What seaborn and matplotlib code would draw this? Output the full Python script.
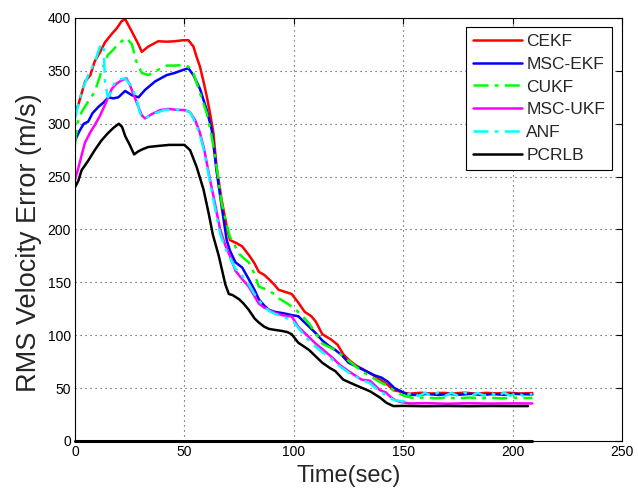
import numpy as np
import pandas as pd
import matplotlib
matplotlib.use("Agg")
import matplotlib.pyplot as plt
import seaborn as sns

OUT_PATH = "out.png"

# values (time in sec, RMS velocity error in m/s)
cekf_t = [0, 1.5, 4.6, 7, 9, 11.5, 13.7, 16.8, 19, 21.3, 22.9, 26, 29, 30.5, 33.5, 38,
          41.9, 45.5, 49.5, 51.8, 54.1, 55.6, 57.1, 58.6, 60.2, 61.7, 63.2, 64.7, 67,
          69.3, 70.8, 73.9, 76.4, 79.4, 82, 84, 86.5, 88.6, 91, 93, 96, 99, 102, 105,
          108, 110, 113, 117, 120, 122.6, 125.5, 128.7, 131.5, 134.8, 138, 140.9, 143,
          145.5, 148, 150, 153, 158, 163, 168, 173, 178, 183, 188, 193, 198, 203, 209]
cekf_v = [310, 318, 340, 346, 359, 368, 377, 385, 390, 397, 399, 387, 375, 368, 373, 378,
          377.6, 378, 379, 379, 373, 363, 354, 341, 326, 310, 292, 259, 228,
          203, 190, 187, 184, 176, 168, 160, 157, 153, 148, 143, 141, 139, 131, 122,
          118, 113, 101, 96, 91, 82, 76, 71, 68, 64, 60, 56, 53,
          48, 47, 45.5, 44.8, 45.6, 44.9, 45.5, 45, 45.7, 44.8, 45.5, 45, 45.6, 44.9, 45.3]

mscekf_t = [0, 2, 4, 6, 8, 10.7, 13, 15.2, 17.5, 19.8, 22.9, 26, 29, 32, 36.6, 41.9,
            45.5, 49.5, 51.8, 54.1, 57.1, 60.2, 62.5, 64.7, 67, 69.3, 70.8, 73.3, 76.4,
            79.4, 82, 84, 86.5, 88.6, 91.5, 94.7, 97, 99, 102, 104.5, 107, 110, 113, 116,
            119, 122, 125, 129, 134, 137, 140, 143, 146, 149, 152, 156, 161, 166, 171,
            176, 181, 186, 191, 196, 201, 209]
mscekf_v = [284, 293, 300, 302, 310, 316, 320, 325, 324, 325, 331, 327, 325, 332, 340, 346,
            348, 351, 352.5, 346, 333, 313, 294, 255, 222, 190, 180, 169, 164,
            153, 143, 134, 128, 124, 122, 121, 120, 119, 118, 113, 108, 102, 95, 90,
            86, 81, 74, 70, 65, 62, 60, 56, 50, 47, 44, 43.5, 44.5, 43.5, 44.5,
            43.8, 44.6, 43.5, 44.4, 43.7, 44.5, 44]

cukf_t = [0, 1, 3, 6, 9, 12, 15, 17.5, 19.8, 23.6, 26, 28, 30.5, 33.5, 38, 41.9, 45.5,
          49.5, 51.8, 54.1, 57.1, 60.2, 62.5, 65, 67, 69.3, 70.8, 73, 75, 77, 79.4, 82,
          84, 86.5, 88.6, 91, 93, 97, 101, 104, 107, 110, 113, 116, 119, 122, 125, 128,
          131, 135, 140, 143, 146, 149, 151.5, 155, 160, 165, 170, 175, 180, 185, 190,
          195, 200, 205, 209]
cukf_v = [280, 300, 311, 321, 330, 349, 365, 370, 376, 381, 375, 359, 348, 346, 351, 355, 355,
          355.5, 354, 347.7, 329, 310, 288, 255, 225, 205, 193, 185, 177, 173, 169, 158,
          146, 144, 142, 139, 135, 130, 124, 118, 111, 102, 92, 89, 86, 81, 76, 71,
          66, 61, 55, 52, 47, 44, 42, 40.5, 41.2, 40.4, 41, 40.3, 41.1, 40.5, 40.9,
          40.3, 41, 40.6, 40.8]

mscukf_t = [0, 2, 4.5, 7, 9.1, 11.5, 13.7, 16.8, 19, 21.3, 23.5, 25, 26.5, 28, 30.5, 32,
            35, 39, 43, 47, 50, 52.5, 55, 57, 59, 61.7, 64, 66.3, 68.7, 71, 73.3, 76.4,
            79.4, 82, 84, 86.5, 88.6, 91.5, 94.7, 97, 99, 102, 106, 110, 113, 117.5, 121,
            125, 128, 131, 134.8, 139.4, 142, 144, 146, 148.5, 153, 160, 170, 180, 190,
            200, 209]
mscukf_v = [247, 262, 282, 292, 299, 308, 318, 333, 338, 341, 343, 337, 329, 321, 308, 305,
            309, 313, 314, 313, 313, 311, 303, 292, 276, 247, 224, 200, 185, 174, 161, 153,
            146, 137, 130, 126, 124, 121, 119, 118, 118, 108, 100, 92, 87, 79, 72,
            66, 62, 58, 57, 48, 46, 42, 39, 37, 35.5, 35.8, 35.3, 35.7, 35.4,
            35.6, 35.5]

anf_t = [0, 1.5, 3, 6, 9.1, 11.4, 13, 13.7, 15, 16.5, 18.3, 20.5, 22.9, 26, 28, 29.7, 32,
         36.6, 41, 45, 49.5, 52.5, 55, 57, 59, 61.7, 64, 66.3, 68.7, 71, 73.3, 76.4,
         79.4, 82, 84, 86.5, 88.6, 91.5, 94.7, 97, 99, 102, 106, 110, 113, 116.5, 120,
         125.6, 130, 134.8, 138, 140.9, 143, 145.5, 148, 150, 151.5, 154, 157, 160, 163,
         166, 169, 172, 175, 178, 181, 184, 187, 190, 193, 196, 199, 202, 205, 209]
anf_v = [305, 318, 330, 346, 358.7, 373, 375, 340, 325, 330, 340, 342, 343, 335, 324, 310, 305,
         310, 313, 313.6, 313, 311, 301, 290, 274, 244, 220, 196, 182, 172, 163, 156,
         148, 139, 133, 127, 123, 120, 118, 116, 115, 107, 97, 89, 84, 79, 72,
         64, 59, 54.5, 49, 45, 42, 39, 38, 37.2, 43, 45.8, 42.6, 45.5, 42.8,
         45.9, 42.5, 45.6, 42.8, 45.8, 42.6, 45.5, 42.9, 45.7, 42.6, 45.6, 42.8, 45.4, 42.7, 44.5]

pcrlb_t = [0, 1.5, 3, 6, 9, 12, 15, 17.5, 20, 21.5, 23, 25, 27, 29, 31, 33.5, 38, 43, 47,
           50, 52.6, 55.6, 58.7, 61, 63, 65.7, 68.7, 70.3, 72, 75, 77, 79.4, 82, 84, 86.5,
           88.6, 91.5, 94.7, 97, 99, 102, 107, 113, 116.5, 119, 122.6, 128, 134.8, 139.4,
           142.4, 145.5, 150, 160, 170, 180, 190, 200, 207]
pcrlb_v = [240, 246, 256, 265, 275, 284, 291, 296, 300, 297, 288, 280, 271, 274, 276, 278,
           279, 280, 280, 280, 275, 259, 238, 216, 195, 175, 148, 139, 138, 134, 130, 124,
           116, 112, 108, 106, 105, 104, 103, 101, 93, 86, 74, 69, 66, 58, 53, 47, 41,
           36, 33, 33.2, 32.9, 33.1, 32.9, 33.1, 33, 33]

# flat trace lying on the time axis
zero_t = [0, 209]
zero_v = [0, 0]

series = [
    ("CEKF", cekf_t, cekf_v, "#ff0000", "-"),
    ("MSC-EKF", mscekf_t, mscekf_v, "#0000ff", "-"),
    ("CUKF", cukf_t, cukf_v, "#00ff00", (0, (6, 2.5, 1.5, 2.5))),
    ("MSC-UKF", mscukf_t, mscukf_v, "#ff00ff", "-"),
    ("ANF", anf_t, anf_v, "#00ffff", (0, (6, 2.5, 1.5, 2.5))),
    ("PCRLB", pcrlb_t, pcrlb_v, "#000000", "-"),
]

sns.set_style("white")
plt.rcParams["font.family"] = ["Liberation Sans", "DejaVu Sans"]

fig = plt.figure(figsize=(6.38, 4.97), dpi=100)
ax = fig.add_axes([0.1176, 0.1127, 0.8574, 0.8511])

sns.lineplot(x=zero_t, y=zero_v, color="black", linewidth=2.2, estimator=None,
             clip_on=False, ax=ax)
for name, t, v, col, ls in series:
    df = pd.DataFrame({"t": t, "v": v})
    sns.lineplot(data=df, x="t", y="v", color=col, linestyle=ls, linewidth=1.8,
                 estimator=None, label=name, ax=ax)

ax.set_xlim(0, 250)
ax.set_ylim(0, 400)
ax.set_xticks(np.arange(0, 251, 50))
ax.set_yticks(np.arange(0, 401, 50))
ax.grid(True, linestyle=(0, (1, 3.5)), color="0.25", linewidth=0.8)
ax.tick_params(direction="in", top=True, right=True, length=4, width=0.8,
               labelsize=10, colors="black", pad=3)
for sp in ax.spines.values():
    sp.set_color("black")
    sp.set_linewidth(0.8)

ax.set_xlabel("Time(sec)", fontsize=17, labelpad=4)
ax.set_ylabel("RMS Velocity Error (m/s)", fontsize=19.5, labelpad=4)
ax.yaxis.set_label_coords(-0.060, 0.468)

leg = ax.legend(loc="upper right", bbox_to_anchor=(0.982, 0.979), fontsize=12.5,
                frameon=True, fancybox=False, framealpha=1, edgecolor="black",
                handlelength=2.8, handletextpad=0.28, labelspacing=0.44,
                borderpad=0.4, borderaxespad=0)
leg.get_frame().set_linewidth(0.8)

fig.savefig(OUT_PATH, dpi=100)
plt.close(fig)
